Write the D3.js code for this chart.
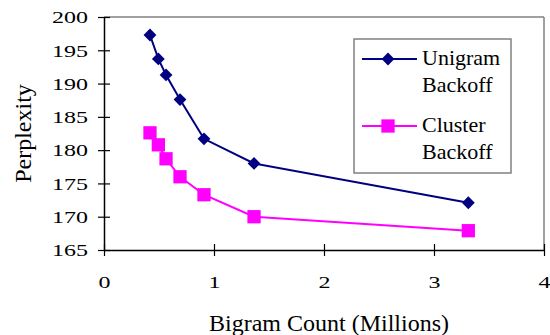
<!DOCTYPE html>
<html>
<head>
<meta charset="utf-8">
<script src="https://cdn.jsdelivr.net/npm/d3@7"></script>
<style>
  body { margin: 0; background: #fff; }
  text { font-family: "Liberation Serif", "Times New Roman", serif; fill: #000; }
</style>
</head>
<body>
<svg id="chart" width="550" height="335"></svg>
<script>
(function () {
    'use strict';

    // bigram counts in millions, shared by both series
    var counts = [0.418, 0.494, 0.564, 0.691, 0.909, 1.364, 3.312];
    var unigramBackoff = [197.3, 193.7, 191.3, 187.6, 181.7, 178.0, 172.1];
    var clusterBackoff = [182.6, 180.8, 178.7, 176.0, 173.3, 170.0, 167.9];
    var xTicks = [0, 1, 2, 3, 4];
    var yTicks = [165, 170, 175, 180, 185, 190, 195, 200];
    var seriesNames = [['Unigram', 'Backoff'], ['Cluster', 'Backoff']];

    var serif = '"Liberation Serif", "Times New Roman", serif';
    var margin = { left: 104, top: 17, right: 6, bottom: 85 };
    var width = 550 - margin.left - margin.right;
    var height = 335 - margin.top - margin.bottom;

    var svg = d3.select('#chart');
    var g = svg.append('g')
        .attr('transform', 'translate(' + margin.left + ',' + margin.top + ')');

    var x = d3.scaleLinear().domain([0, 4]).range([0, width]);
    var y = d3.scaleLinear().domain([165, 200]).range([height, 0]);

    // top and right frame lines
    g.append('line')
        .attr('x1', 0).attr('x2', width).attr('y1', 0).attr('y2', 0)
        .attr('stroke', '#808080').attr('stroke-width', 1.5);
    g.append('line')
        .attr('x1', width).attr('x2', width).attr('y1', 0).attr('y2', height)
        .attr('stroke', '#808080').attr('stroke-width', 1.5);

    var yAxis = g.append('g')
        .call(d3.axisLeft(y).tickValues(yTicks).tickFormat(d3.format('d')).tickSizeOuter(0))
        .attr('font-family', serif);
    yAxis.selectAll('.tick line').attr('x2', 6).attr('x1', -6).attr('stroke-width', 1.2);
    yAxis.select('.domain').attr('stroke-width', 1.5);
    yAxis.selectAll('.tick text')
        .attr('x', -16)
        .attr('dy', '0.34em')
        .attr('font-size', 24)
        .attr('transform', 'scale(1,0.7)');

    var xAxis = g.append('g')
        .attr('transform', 'translate(0,' + height + ')')
        .call(d3.axisBottom(x).tickValues(xTicks).tickFormat(d3.format('d')).tickSizeOuter(0))
        .attr('font-family', serif);
    xAxis.selectAll('.tick line').attr('y1', -6).attr('y2', 6).attr('stroke-width', 1.2);
    xAxis.select('.domain').attr('stroke-width', 1.5);
    xAxis.selectAll('.tick text')
        .attr('y', 38 / 0.7)
        .attr('dy', 0)
        .attr('font-size', 24)
        .attr('transform', 'scale(1,0.7)');
    svg.selectAll('.domain').attr('stroke', '#000');

    // axis titles
    svg.append('text')
        .attr('x', 329).attr('y', 331)
        .attr('text-anchor', 'middle')
        .attr('font-size', 24)
        .text('Bigram Count (Millions)');
    svg.append('text')
        .attr('transform', 'translate(31,' + (margin.top + height / 2) + ') rotate(-90)')
        .attr('text-anchor', 'middle')
        .attr('font-size', 24)
        .text('Perplexity');

    var line = d3.line()
        .x(function (d) { return x(d[0]); })
        .y(function (d) { return y(d[1]); });

    var diamond = d3.symbol().type(d3.symbolSquare).size(82);
    var square = d3.symbol().type(d3.symbolSquare).size(176);

    function drawSeries(values, color, symbol, rotate) {
        var pts = d3.zip(counts, values);
        g.append('path')
            .datum(pts)
            .attr('fill', 'none')
            .attr('stroke', color)
            .attr('stroke-width', 2)
            .attr('d', line);
        g.selectAll(null)
            .data(pts)
            .enter()
            .append('path')
            .attr('d', symbol)
            .attr('fill', color)
            .attr('transform', function (d) {
                return 'translate(' + x(d[0]) + ',' + y(d[1]) + ')' + (rotate ? ' rotate(45)' : '');
            });
    }

    drawSeries(unigramBackoff, '#000080', diamond, true);
    drawSeries(clusterBackoff, '#ff00ff', square, false);

    // legend
    var legend = svg.append('g').attr('transform', 'translate(354,39)');
    legend.append('rect')
        .attr('width', 157).attr('height', 134)
        .attr('fill', '#fff')
        .attr('stroke', '#808080')
        .attr('stroke-width', 1.5);

    var items = [
        { names: seriesNames[0], color: '#000080', symbol: diamond, rotate: true, y: 20 },
        { names: seriesNames[1], color: '#ff00ff', symbol: square, rotate: false, y: 87 }
    ];

    items.forEach(function (item) {
        var row = legend.append('g').attr('transform', 'translate(0,' + item.y + ')');
        row.append('line')
            .attr('x1', 8).attr('x2', 63)
            .attr('stroke', item.color).attr('stroke-width', 2);
        row.append('path')
            .attr('d', item.symbol)
            .attr('fill', item.color)
            .attr('transform', 'translate(34,0)' + (item.rotate ? ' rotate(45)' : ''));
        row.append('text')
            .attr('x', 68).attr('y', 6)
            .attr('font-size', 22)
            .text(item.names[0]);
        row.append('text')
            .attr('x', 68).attr('y', 33)
            .attr('font-size', 22)
            .text(item.names[1]);
    });
}());
</script>
</body>
</html>
